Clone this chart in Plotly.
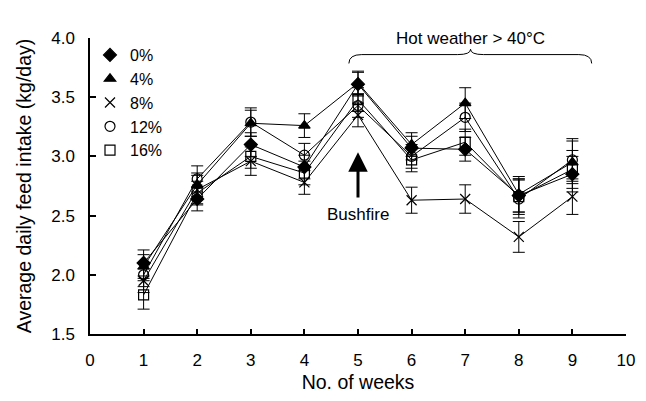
import plotly.graph_objects as go

weeks = [1, 2, 3, 4, 5, 6, 7, 8, 9]
series_names = ["0%", "4%", "8%", "12%", "16%"]

intake_0 = [2.10, 2.64, 3.10, 2.91, 3.61, 3.07, 3.06, 2.67, 2.85]
intake_4 = [2.07, 2.76, 3.28, 3.26, 3.62, 3.10, 3.45, 2.68, 2.95]
intake_8 = [1.95, 2.72, 2.96, 2.78, 3.35, 2.63, 2.64, 2.32, 2.66]
intake_12 = [2.00, 2.81, 3.29, 3.01, 3.43, 3.00, 3.33, 2.64, 2.97]
intake_16 = [1.83, 2.69, 3.00, 2.86, 3.48, 2.97, 3.12, 2.66, 2.89]

err_0 = [0.11, 0.10, 0.10, 0.10, 0.10, 0.10, 0.10, 0.14, 0.15]
err_4 = [0.10, 0.10, 0.11, 0.10, 0.10, 0.10, 0.13, 0.15, 0.18]
err_8 = [0.10, 0.12, 0.12, 0.10, 0.10, 0.11, 0.12, 0.13, 0.15]
err_12 = [0.10, 0.11, 0.12, 0.10, 0.10, 0.10, 0.12, 0.16, 0.18]
err_16 = [0.12, 0.10, 0.10, 0.10, 0.10, 0.10, 0.11, 0.15, 0.16]

x_ticks = [0, 1, 2, 3, 4, 5, 6, 7, 8, 9, 10]
y_ticks = [1.5, 2.0, 2.5, 3.0, 3.5, 4.0]

values = [intake_0, intake_4, intake_8, intake_12, intake_16]
errors = [err_0, err_4, err_8, err_12, err_16]
symbols = ["diamond", "triangle-up", "x-thin-open", "circle-open", "square-open"]
sizes = [10, 10, 10, 10, 10]

fig = go.Figure()
for name, v, e, s, sz in zip(series_names, values, errors, symbols, sizes):
    fig.add_trace(go.Scatter(
        x=weeks, y=v, mode="lines+markers", name=name, showlegend=False,
        line=dict(color="black", width=1),
        marker=dict(symbol=s, size=sz, color="black",
                    line=dict(color="black", width=1.2)),
        error_y=dict(type="data", array=e, visible=True, color="black",
                     thickness=1, width=6),
    ))
for name, s, sz in zip(series_names, symbols, sizes):
    fig.add_trace(go.Scatter(
        x=[None], y=[None], mode="markers", name=name, showlegend=True,
        marker=dict(symbol=s, size=sz, color="black",
                    line=dict(color="black", width=1.2)),
    ))

# curly brace over the hot weather period
bx0, bx1, bxm = 4.83, 9.36, 7.10
by0, by1, bym = 3.785, 3.86, 3.905
r = 0.12
path = (f"M {bx0},{by0} Q {bx0},{by1} {bx0+r*2},{by1} "
        f"L {bxm-r*2},{by1} Q {bxm},{by1} {bxm},{bym} "
        f"Q {bxm},{by1} {bxm+r*2},{by1} "
        f"L {bx1-r*2},{by1} Q {bx1},{by1} {bx1},{by0}")
fig.add_shape(type="path", path=path, xref="x", yref="y",
              line=dict(color="black", width=1))

fig.add_annotation(x=bxm, y=4.0, xref="x", yref="y", text="Hot weather > 40°C",
                   showarrow=False, yanchor="middle",
                   font=dict(size=17, color="black"))

fig.add_annotation(x=5, y=3.035, ax=5, ay=2.64, xref="x", yref="y",
                   axref="x", ayref="y", text="", showarrow=True,
                   arrowhead=2, arrowsize=1.3, arrowwidth=3, arrowcolor="black")
fig.add_annotation(x=5, y=2.51, xref="x", yref="y", text="Bushfire",
                   showarrow=False, font=dict(size=17, color="black"))

fig.update_layout(
    width=646, height=401,
    margin=dict(l=90, r=11, t=38, b=60),
    plot_bgcolor="white", paper_bgcolor="white",
    font=dict(family="Liberation Sans, Arial, sans-serif", color="black", size=17),
    legend=dict(x=0.0, y=1.0, xanchor="left", yanchor="top",
                bgcolor="rgba(0,0,0,0)", font=dict(size=16),
                itemwidth=30, tracegroupgap=0),
    xaxis=dict(range=[0, 10], tickvals=x_ticks, ticks="inside", ticklen=5,
               tickwidth=1.5, tickcolor="black", showline=True, linecolor="black",
               linewidth=1.5, showgrid=False, zeroline=False,
               ticklabelstandoff=10,
               title=dict(text="No. of weeks", font=dict(size=19.5), standoff=6)),
    yaxis=dict(range=[1.5, 4.0], tickvals=y_ticks, tickformat=".1f",
               ticks="inside", ticklen=6, tickwidth=1.5, tickcolor="black",
               showline=True, linecolor="black", linewidth=1.5,
               showgrid=False, zeroline=False, ticklabelstandoff=10,
               title=dict(text="Average daily feed intake (kg/day)",
                          font=dict(size=19.5), standoff=14)),
)

fig.write_html("out.html", config={"displayModeBar": False},
               post_script="document.body.style.margin='0';")
